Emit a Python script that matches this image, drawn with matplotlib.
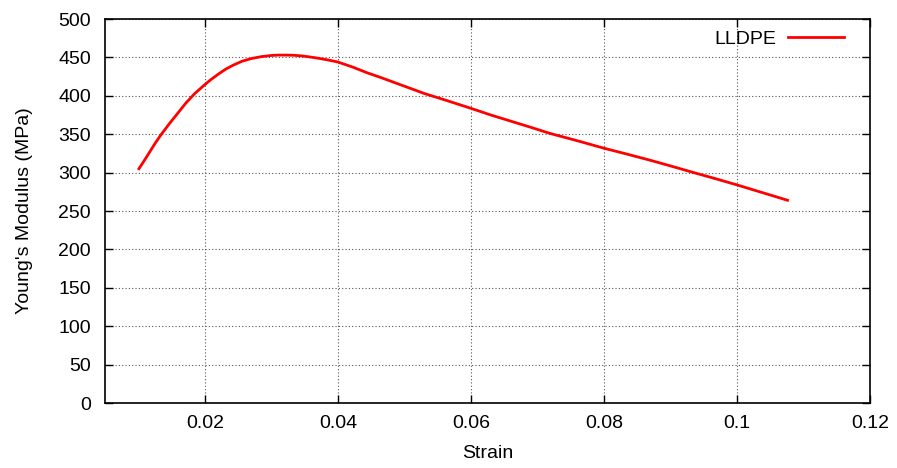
import matplotlib
matplotlib.use("Agg")
import matplotlib.pyplot as plt

plt.rcParams['font.family'] = ['Liberation Sans', 'DejaVu Sans']

strain = [0.0101, 0.0110, 0.0118, 0.0126, 0.0134, 0.0147, 0.0160, 0.0172,
          0.0185, 0.0198, 0.0209, 0.0220, 0.0232, 0.0243, 0.0256, 0.0270,
          0.0285, 0.0300, 0.0311, 0.0321, 0.0333, 0.0345, 0.0357, 0.0370,
          0.0385, 0.0400, 0.0422, 0.0444, 0.0464, 0.0497, 0.0530, 0.0565,
          0.0599, 0.0630, 0.0660, 0.0690, 0.0719, 0.0760, 0.0799, 0.0835,
          0.0870, 0.0903, 0.0935, 0.0968, 0.1000, 0.1038, 0.1076]
modulus = [305, 317, 328, 339, 349, 364, 378, 391,
           403, 413, 421, 428, 435, 440, 445, 448.5,
           451, 452.5, 453, 453, 452.8, 452, 450.7, 449,
           446.7, 444, 437.5, 430, 424, 413.5, 403, 393.5,
           384, 375, 367, 359, 351, 341.5, 332, 324,
           316, 308, 300, 292, 284, 274, 264]

FS = 14

fig = plt.figure(figsize=(8.97, 4.68), dpi=100)
ax = fig.add_axes([105 / 897, 1 - 403 / 468, 765 / 897, 384 / 468])

ax.plot(strain, modulus, color='#ff0000', lw=2, label='LLDPE')

ax.set_xlim(0.005, 0.12)
ax.set_ylim(0, 500)
ax.set_xticks([0.02, 0.04, 0.06, 0.08, 0.1, 0.12])
ax.set_xticklabels(['0.02', '0.04', '0.06', '0.08', '0.1', '0.12'])
ax.set_yticks(range(0, 501, 50))

ax.grid(True, color='#555555', linestyle=(0, (1, 2)), linewidth=0.8)
ax.tick_params(direction='in', length=6, width=1, top=True, right=True,
               labelsize=FS)
ax.tick_params(axis='y', pad=10)
ax.tick_params(axis='x', pad=9)
for s in ax.spines.values():
    s.set_linewidth(1.2)

ax.set_xlabel('Strain', fontsize=FS, labelpad=9)
ax.set_ylabel("Young's Modulus (MPa)", fontsize=FS, labelpad=18)

leg = ax.legend(loc='upper right', frameon=False, fontsize=FS,
                markerfirst=False, handlelength=2.9, handletextpad=0.6,
                bbox_to_anchor=(1 - 14 / 765, 1.0), borderaxespad=0.2)

fig.savefig('out.png', dpi=100)
